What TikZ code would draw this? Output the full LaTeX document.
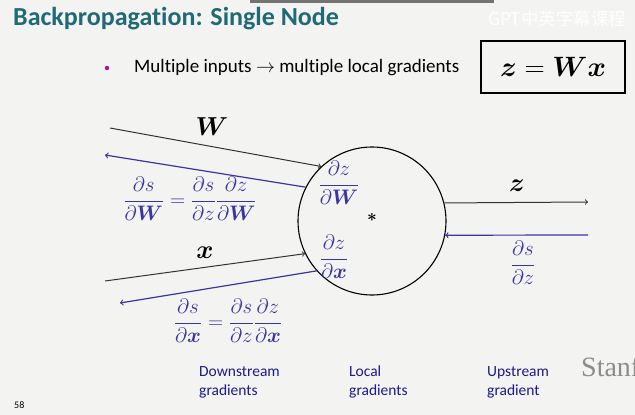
\RequirePackage{fix-cm}
\documentclass[tikz,border=0pt]{standalone}
\usepackage{amsmath,amssymb}
\usepackage[no-math]{fontspec}
\setmainfont[Ligatures=NoCommon]{Carlito}
\newfontfamily\cjkfont{Noto Sans CJK SC}
\newfontfamily\stanfont{Liberation Serif}
\definecolor{slidebg}{HTML}{F3F3F1}
\definecolor{titleteal}{HTML}{1F6A76}
\definecolor{gradblue}{HTML}{3B35A3}
\definecolor{labelnavy}{HTML}{1C1A8A}
\definecolor{bulletmag}{HTML}{A8189A}

\begin{document}
\begin{tikzpicture}[x=1pt,y=-1pt,
    every node/.style={inner sep=0pt},
    fwd/.style={draw=black!80, line width=1pt, ->},
    bwd/.style={draw=gradblue, line width=1.2pt, ->},
    grad/.style={text=gradblue, font=\fontsize{21}{23}\selectfont},
    varlab/.style={font=\fontsize{26}{28}\selectfont},
    bottomlab/.style={anchor=north west, align=left, text=labelnavy, font=\fontsize{15.5}{19}\selectfont}]
            \fill [slidebg] (0,0) rectangle (635,415);
            \useasboundingbox (0,0) rectangle (635,415);
            \fill [black!55] (250,0) rectangle (494,2.5);
            \node [anchor=west, text=titleteal, font=\bfseries\fontsize{26}{28}\selectfont] (title) at (13,19) {Backpropagation: Single Node};
            \node [anchor=west, text=white, font=\cjkfont\fontsize{17.5}{20}\selectfont] (mark) at (488,19) {GPT中英字幕课程};
            \node [circle, fill=bulletmag, minimum size=4.5pt] (dot) at (107,68) {};
            \node [anchor=west, font=\fontsize{19}{22}\selectfont] (bullet) at (134,68) {Multiple inputs $\rightarrow$ multiple local gradients};
            \node [draw, line width=1.6pt, minimum width=144, minimum height=52, font=\fontsize{28}{30}\selectfont] (eq) at (553,67) {$\boldsymbol{z}=\boldsymbol{W}\boldsymbol{x}$};
            \node [circle, draw, line width=1.1pt, minimum size=148] (mul) at (372,221) {};
            \node [font=\fontsize{17}{19}\selectfont] (star) at (372,217) {$\boldsymbol{*}$};
            \coordinate (Win) at (110,128);
            \coordinate (Wout) at (105,155);
            \coordinate (xin) at (105,281);
            \coordinate (xout) at (120,303);
            \coordinate (zout) at (588,202);
            \coordinate (zin) at (588,235);
            \draw [fwd] (Win) -- (mul.133);
            \draw [bwd] (mul.153) -- (Wout);
            \draw [fwd] (xin) -- (mul.206);
            \draw [bwd] (mul.222) -- (xout);
            \draw [fwd] (mul.14) -- (zout);
            \draw [bwd] (zin) -- (mul.-11);
            \node [varlab] (Wlab) at (212,127) {$\boldsymbol{W}$};
            \node [varlab] (xlab) at (205,253) {$\boldsymbol{x}$};
            \node [varlab] (zlab) at (517,186) {$\boldsymbol{z}$};
            \node [grad] (dWgrad) at (190,199) {$\dfrac{\partial s}{\partial \boldsymbol{W}} = \dfrac{\partial s}{\partial z}\dfrac{\partial z}{\partial \boldsymbol{W}}$};
            \node [grad] (dxgrad) at (228,321) {$\dfrac{\partial s}{\partial \boldsymbol{x}} = \dfrac{\partial s}{\partial z}\dfrac{\partial z}{\partial \boldsymbol{x}}$};
            \node [grad] (locW) at (339,183) {$\dfrac{\partial z}{\partial \boldsymbol{W}}$};
            \node [grad] (locx) at (334,257) {$\dfrac{\partial z}{\partial \boldsymbol{x}}$};
            \node [grad] (upz) at (523,263) {$\dfrac{\partial s}{\partial z}$};
            \node [bottomlab] (down) at (199,366) {Downstream\\gradients};
            \node [bottomlab] (local) at (349,366) {Local\\gradients};
            \node [bottomlab] (up) at (487,366) {Upstream\\gradient};
            \node [anchor=west, font=\fontsize{10}{12}\selectfont] (page) at (14,405) {58};
            \node [anchor=west, text=black!45, font=\stanfont\fontsize{28}{30}\selectfont] (stan) at (581,367) {Stanford};
        \end{tikzpicture}
\end{document}
